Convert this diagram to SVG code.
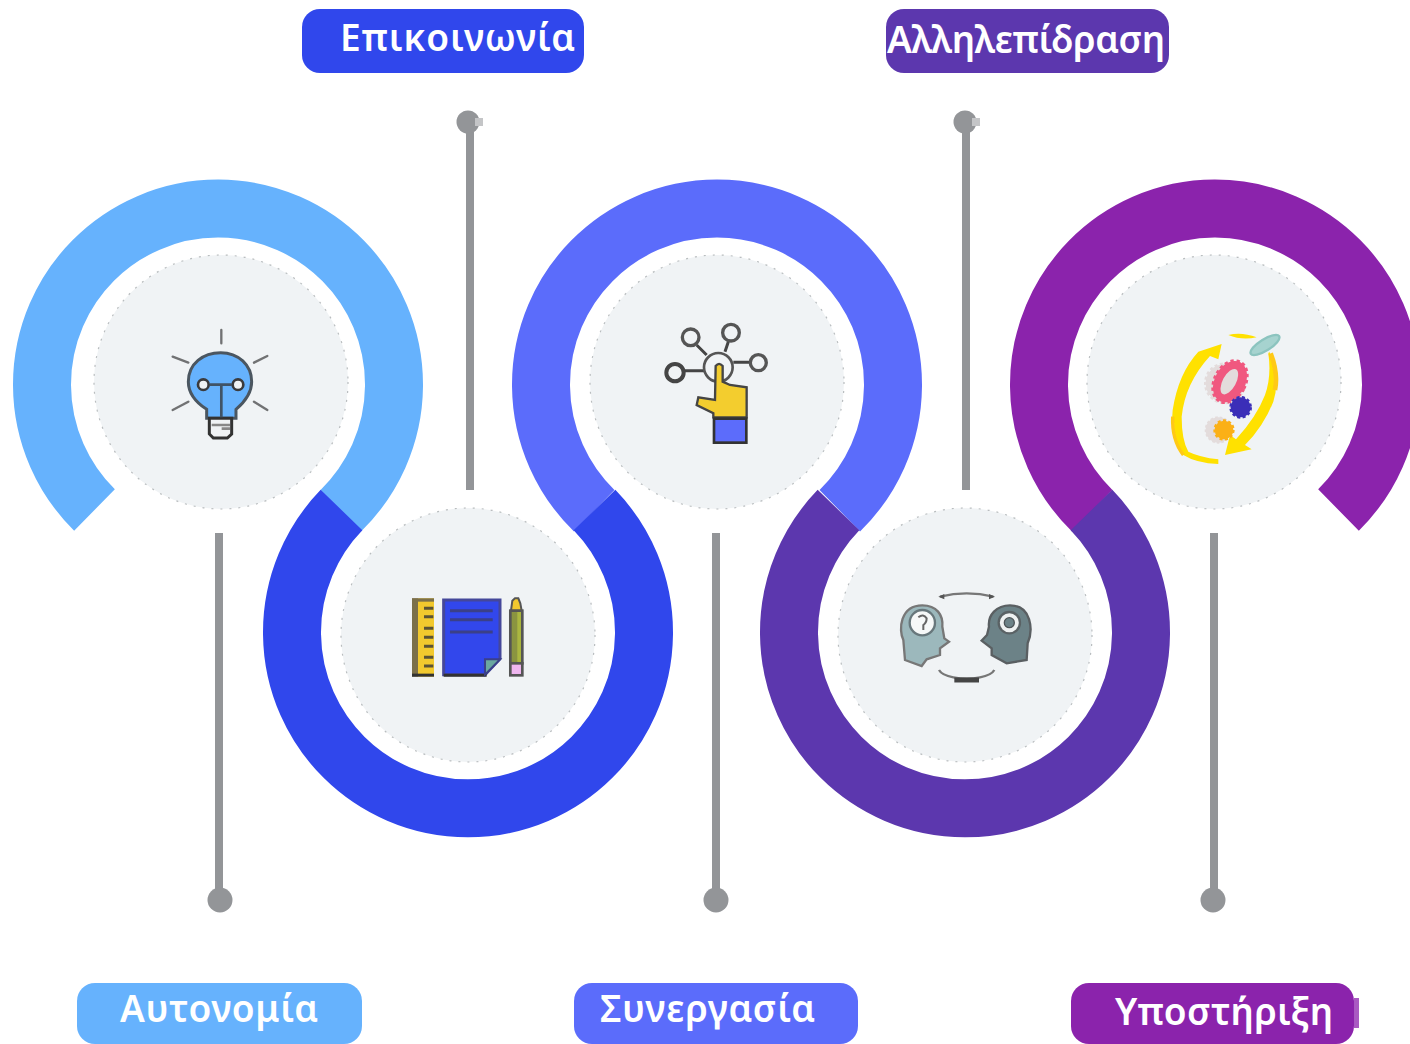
<svg xmlns="http://www.w3.org/2000/svg" width="1410" height="1044" viewBox="0 0 1410 1044">
<defs><filter id="soft" x="-10%" y="-10%" width="120%" height="120%"><feGaussianBlur stdDeviation="0.55"/></filter></defs>
<style>
.ring{fill:none;stroke-width:58}
.disc{fill:#f0f3f5;stroke:#b9bdbf;stroke-width:1.2;stroke-dasharray:2 7}
.wire{stroke:#939598;stroke-width:8;fill:none}
.dot{fill:#939598}
.icon{filter:url(#soft)}
.lbl{font-family:"Noto Sans","Open Sans","DejaVu Sans",sans-serif;font-size:37px;font-weight:600;fill:#fff}
.ln{fill:none;stroke:#3a3a3c;stroke-linecap:round}
</style>
<rect width="1410" height="1044" fill="#fff"/>
<g id="rings">
<path class="ring" stroke="#66b2fd" d="M94.500 510A176 176 0 1 1 340.800 510.700"/>
<path class="ring" stroke="#5b6cfb" d="M594.200 510.700A176 176 0 1 1 839.800 510.700"/>
<path class="ring" stroke="#8b23ac" d="M1092.200 510.700A176 176 0 1 1 1338.500 510"/>
<path class="ring" stroke="#3047ec" d="M341.500 510A176 176 0 1 0 594.500 510"/>
<path class="ring" stroke="#5c37ae" d="M838.500 510A176 176 0 1 0 1091.500 510"/>
</g>
<g id="connectors">
<path class="wire" d="M219 533V900M470 122V490M716 533V900M966 122V490M1214 533V900"/>
<circle class="dot" cx="220" cy="900" r="12.500"/><circle class="dot" cx="716" cy="900" r="12.500"/><circle class="dot" cx="1213" cy="900" r="12.500"/>
<circle class="dot" cx="468" cy="122" r="11.500"/><circle class="dot" cx="965" cy="122" r="11.500"/>
<rect x="475" y="118" width="8" height="8" fill="#c4c5c7"/><rect x="972" y="118" width="8" height="8" fill="#c4c5c7"/>
</g>
<g id="node-autonomia">
<circle class="disc" cx="221" cy="382" r="127"/>
<g class="icon" transform="translate(150 310) scale(.3333)">
<path d="M214 60V100M68 140L115 158M352 138L312 158M68 300L115 275M352 300L312 275" class="ln" stroke-width="7" opacity=".7"/>
<path d="M170 325V298C135 275 115 250 115 215C115 160 160 128 212 128C265 128 305 165 305 215C305 250 285 275 258 298V325Z" fill="#66b2fd" stroke="#4b5660" stroke-width="9"/>
<path d="M178 325H245V372L232 384H190L178 372Z" fill="#f0f3f5" stroke="#333" stroke-width="9"/>
<path d="M185 345H240M215 356H240" stroke="#888" stroke-width="8"/>
<path d="M180 224H245M214 224V322" stroke="#3f5266" stroke-width="8" fill="none"/>
<circle cx="160" cy="224" r="16" fill="#f0f3f5" stroke="#3a3a3c" stroke-width="8"/>
<circle cx="264" cy="224" r="16" fill="#f0f3f5" stroke="#3a3a3c" stroke-width="8"/>
</g>
</g>
<g id="node-epikoinonia">
<circle class="disc" cx="468" cy="635" r="127"/>
<g class="icon" transform="translate(400 580) scale(.3333)">
<rect x="36" y="55" width="18" height="235" fill="#7b6f4a"/>
<rect x="54" y="55" width="48" height="235" fill="#f2c92e"/>
<rect x="36" y="55" width="66" height="10" fill="#7b6f4a"/><rect x="36" y="281" width="66" height="9" fill="#333"/>
<path d="M72 85H100M72 110H100M72 145H100M72 172H100M72 199H100M72 232H100M72 258H100" stroke="#5a5236" stroke-width="9"/>
<path d="M131 60H300V237L255 284H131Z" fill="#3047ec" stroke="#45479a" stroke-width="9"/>
<path d="M131 286H260" stroke="#333" stroke-width="9"/>
<path d="M255 284V238H300Z" fill="#6aa7a0" stroke="#3a3f88" stroke-width="6"/>
<path d="M150 92H278M150 119H278M150 156H278" stroke="#3a3f88" stroke-width="9"/>
<path d="M333 92L337 62L345 55H355L361 70L365 92Z" fill="#f2c92e" stroke="#555" stroke-width="6"/>
<rect x="331" y="92" width="36" height="158" fill="#8a9440" stroke="#555" stroke-width="8"/>
<rect x="352" y="96" width="11" height="150" fill="#aab63f"/>
<rect x="331" y="250" width="36" height="36" fill="#efb6ef" stroke="#555" stroke-width="8"/>
</g>
</g>
<g id="node-synergasia">
<circle class="disc" cx="717" cy="382" r="127"/>
<g class="icon" transform="translate(650 310) scale(.3333)" fill="none">
<path d="M140 105L170 135M235 95L225 125M250 157H300M105 182H165" stroke="#444" stroke-width="9"/>
<circle cx="122" cy="82" r="25" stroke="#555" stroke-width="10"/>
<circle cx="243" cy="68" r="25" stroke="#555" stroke-width="10"/>
<circle cx="325" cy="158" r="24" stroke="#555" stroke-width="10"/>
<circle cx="75" cy="188" r="26" stroke="#444" stroke-width="12"/>
<circle cx="205" cy="172" r="43" stroke="#555" stroke-width="8"/>
<path d="M197 168Q207 155 218 168V215L240 225L290 232V322H190V310L140 285L145 262L195 270Z" fill="#f3cd2f" stroke="#444" stroke-width="7"/>
<rect x="192" y="326" width="97" height="72" fill="#5b6cfb" stroke="#333" stroke-width="8"/>
</g>
</g>
<g id="node-allilepidrasi">
<circle class="disc" cx="965" cy="635" r="127"/>
<g class="icon" transform="translate(885 580) scale(.3333)">
<path d="M112 76C155 76 175 105 172 140L178 175L192 185L165 205V225L125 238L110 258L60 240L55 180C40 150 45 76 112 76Z" fill="#9cb8bc" stroke="#777" stroke-width="7"/>
<circle cx="112" cy="128" r="38" fill="#f6f8f8" stroke="#67777b" stroke-width="7"/>
<path d="M100 112Q115 100 125 115Q125 128 115 135V150" stroke="#666" stroke-width="6" fill="none"/>
<path d="M375 76C335 76 308 105 312 140L306 165L290 182L320 205V225L365 250L425 240L428 190C445 150 440 76 375 76Z" fill="#6c8287" stroke="#5a5f62" stroke-width="7"/>
<circle cx="373" cy="128" r="32" fill="#eef1f1" stroke="#5a6265" stroke-width="7"/>
<circle cx="373" cy="128" r="15" fill="#6c8287" stroke="#4e5558" stroke-width="4"/>
<path d="M165 50Q245 30 325 50" fill="none" stroke="#777" stroke-width="7"/>
<path d="M160 50L178 42V58ZM330 50L312 42V58Z" fill="#555"/>
<path d="M162 270Q170 285 205 292Q245 300 285 292Q320 285 328 270" fill="none" stroke="#777" stroke-width="7"/>
<path d="M208 300H282" stroke="#444" stroke-width="15"/>
</g>
</g>
<g id="node-ypostirixi">
<circle class="disc" cx="1214" cy="382" r="127"/>
<g class="icon" transform="translate(1150 320) scale(.3333)">
<path d="M145 95L215 72L205 118L180 108Q105 190 95 290Q95 360 115 395Q150 412 205 418L205 432Q140 430 100 405Q60 350 68 270Q85 160 145 95Z" fill="#ffe100"/>
<path d="M68 290Q65 360 100 405" fill="none" stroke="#ffc915" stroke-width="10"/>
<path d="M358 95Q392 180 370 245Q340 320 285 375L305 388L225 405L240 345L258 358Q320 290 345 225Q365 170 355 100Z" fill="#ffe100"/>
<path d="M362 100Q385 160 375 210" fill="none" stroke="#ffc915" stroke-width="14"/>
<path d="M235 45Q275 35 320 52Q275 62 235 45Z" fill="#ffe100"/>
<ellipse cx="345" cy="75" rx="50" ry="17" transform="rotate(-32 345 75)" fill="#a6d3cf" stroke="#8cc4bf" stroke-width="7"/>
<circle cx="225" cy="190" r="58" fill="#e3dcdc" stroke="#e3dcdc" stroke-width="10" stroke-dasharray="9 7"/>
<ellipse cx="240" cy="185" rx="46" ry="66" transform="rotate(28 240 185)" fill="#f0587f" stroke="#f0587f" stroke-width="10" stroke-dasharray="10 8"/>
<ellipse cx="238" cy="185" rx="20" ry="42" transform="rotate(28 238 185)" fill="#e3dcdc"/>
<circle cx="205" cy="330" r="38" fill="#e3dcdc" stroke="#e3dcdc" stroke-width="6" stroke-dasharray="8 6"/>
<circle cx="222" cy="330" r="28" fill="#fbb017" stroke="#fbb017" stroke-width="8" stroke-dasharray="9 7"/>
<circle cx="272" cy="262" r="30" fill="#3a2fb8" stroke="#3a2fb8" stroke-width="8" stroke-dasharray="9 7"/>
</g>
</g>
<g id="labels">
<g id="label-autonomia"><rect x="77" y="983" width="285" height="61" rx="18" fill="#66b2fd"/><text class="lbl" x="120" y="1022" textLength="198">Αυτονομία</text></g>
<g id="label-epikoinonia"><rect x="302" y="9" width="282" height="64" rx="18" fill="#3047ec"/><text class="lbl" x="340" y="51" textLength="235">Επικοινωνία</text></g>
<g id="label-synergasia"><rect x="574" y="983" width="284" height="61" rx="18" fill="#5b6cfb"/><text class="lbl" x="600" y="1022" textLength="215">Συνεργασία</text></g>
<g id="label-allilepidrasi"><rect x="886" y="9" width="283" height="64" rx="18" fill="#5c37ae"/><text class="lbl" x="887" y="53" textLength="278">Αλληλεπίδραση</text></g>
<g id="label-ypostirixi"><rect x="1354" y="998" width="5" height="30" fill="#a95ac2"/><rect x="1071" y="983" width="283" height="61" rx="18" fill="#8b23ac"/><text class="lbl" x="1115" y="1025" textLength="218">Υποστήριξη</text></g>
</g>
</svg>
